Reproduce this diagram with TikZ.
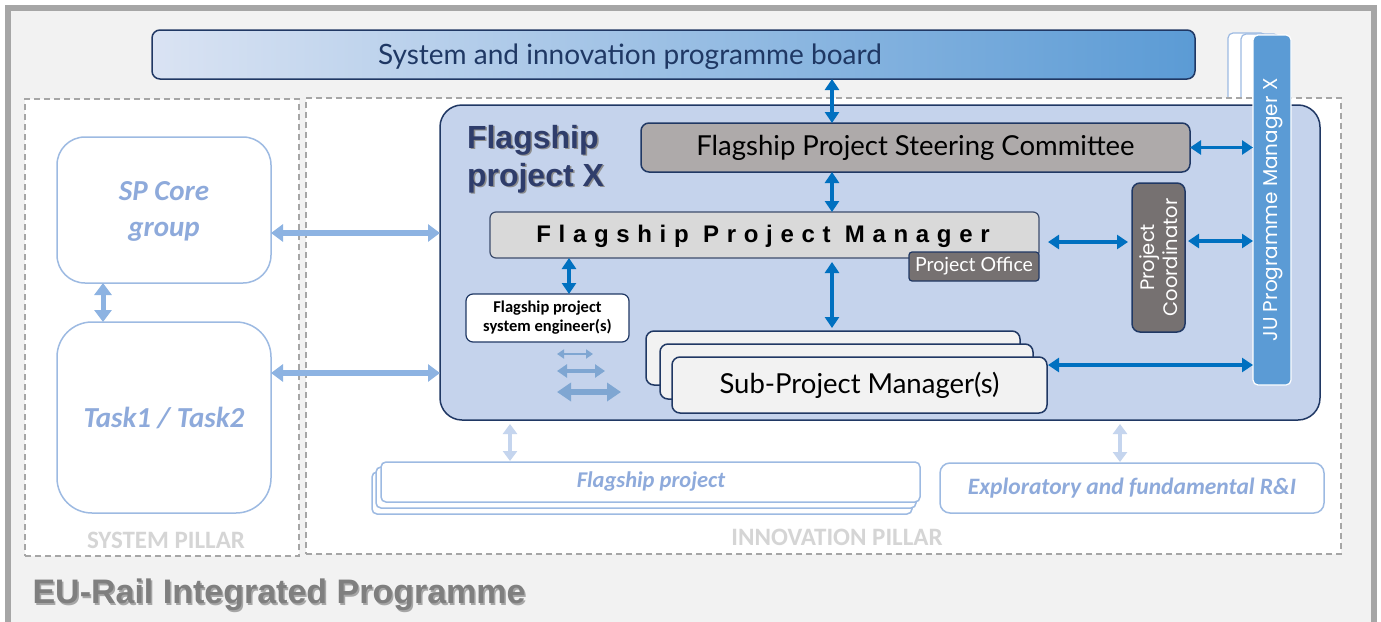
\documentclass[tikz,border=0pt]{standalone}
\usepackage{fontspec}
\setmainfont{Carlito}
\newfontfamily\latof{Lato}
\newfontfamily\popf{Poppins}
\newfontfamily\arialf{Liberation Sans}
\newfontfamily\spacedf[LetterSpace=32]{Liberation Sans}
\usetikzlibrary{arrows.meta,calc}
\definecolor{framegray}{HTML}{A6A6A6}
\definecolor{bggray}{HTML}{F2F2F2}
\definecolor{navy}{HTML}{203864}
\definecolor{boardtxt}{HTML}{1F3864}
\definecolor{gradL}{HTML}{DAE3F3}
\definecolor{gradR}{HTML}{5B9BD5}
\definecolor{mainfill}{HTML}{C5D3EC}
\definecolor{steerfill}{HTML}{AEAAAA}
\definecolor{fpmfill}{HTML}{D9D9D9}
\definecolor{darkgrayfill}{HTML}{767171}
\definecolor{jufill}{HTML}{5B9BD5}
\definecolor{lightline}{HTML}{9DBAE2}
\definecolor{lighttxt}{HTML}{8EAADB}
\definecolor{darrow}{HTML}{0070C0}
\definecolor{larrow}{HTML}{8DB3E2}
\definecolor{farrow}{HTML}{C5D5EE}
\definecolor{sarrow}{HTML}{7FA6D2}
\definecolor{pillartxt}{HTML}{D5D5D5}
\definecolor{eutxt}{HTML}{7F7F7F}
\definecolor{titletxt}{HTML}{2F3D6B}
\tikzset{
  boxbase/.style={inner sep=0pt, outer sep=0pt, align=center},
  navybox/.style={boxbase, draw=navy, line width=1.5pt},
  lightbox/.style={boxbase, draw=lightline, line width=1.5pt, fill=white},
  pillarbox/.style={boxbase, draw=framegray, dashed, dash pattern=on 6pt off 4pt, line width=1.2pt, fill=white},
  darr/.style={draw=darrow, line width=3.5pt, {Triangle[width=14pt,length=11pt]}-{Triangle[width=14pt,length=11pt]}},
  larr/.style={draw=larrow, line width=5.5pt, {Triangle[width=17pt,length=12pt]}-{Triangle[width=17pt,length=12pt]}},
  farr/.style={draw=farrow, line width=4.5pt, {Triangle[width=14pt,length=10pt]}-{Triangle[width=14pt,length=10pt]}},
  lighttext/.style={text=lighttxt, font=\bfseries\itshape},
}
\begin{document}
\begin{tikzpicture}[x=1pt,y=-1pt]
\clip (0,0) rectangle (1381,621);
\useasboundingbox (0,0) rectangle (1381,621);
\fill[white] (0,0) rectangle (1381,621);
% outer frame
\node[boxbase, fill=framegray, minimum width=1372, minimum height=640] (frame) at (691,325) {};
\node[boxbase, fill=bggray, minimum width=1360, minimum height=640] (frameinner) at (691,331) {};
% board
\node[boxbase, draw=navy, line width=1.5pt, rounded corners=8pt, left color=gradL, right color=gradR,
  minimum width=1043, minimum height=49] (board) at (673.5,54.5) {};
\node[text=boardtxt, font=\latof\fontsize{28}{30}\selectfont] (boardtext) at (630,57) {System and innovation programme board};
% JU stack copies
\node[lightbox, line width=1.2pt, rounded corners=5pt, minimum width=38, minimum height=350] (juc2) at (1247,208) {};
\node[lightbox, line width=1.2pt, rounded corners=5pt, minimum width=38, minimum height=350] (juc1) at (1260,209) {};
% pillars
\node[pillarbox, minimum width=274, minimum height=457] (syspillar) at (162,327.5) {};
\node[pillarbox, minimum width=1035, minimum height=456] (innopillar) at (823.5,326) {};
\node[text=pillartxt, font=\bfseries\fontsize{25}{27}\selectfont] (syslabel) at (166,540) {SYSTEM PILLAR};
\node[text=pillartxt, font=\bfseries\fontsize{25}{27}\selectfont] (innolabel) at (837,537) {INNOVATION PILLAR};
% main flagship box
\node[navybox, fill=mainfill, rounded corners=22pt, minimum width=880, minimum height=315] (mainbox) at (880,262.5) {};
\node[text=black!45, align=left, font=\arialf\bfseries\fontsize{32}{38}\selectfont, anchor=north west] (titleshadow) at (465,123) {Flagship\\project X};
\node[text=titletxt, align=left, font=\arialf\bfseries\fontsize{32}{38}\selectfont, anchor=north west] (title) at (463.5,121.5) {Flagship\\project X};
% JU box
\node[boxbase, draw=white, line width=1.2pt, fill=jufill, rounded corners=5pt, minimum width=38, minimum height=350] (ju) at (1272,210) {};
\node[rotate=90, text=white, font=\popf\fontsize{20}{22}\selectfont] (jutext) at (1273,210) {JU Programme Manager X};
% steering
\node[navybox, fill=steerfill, rounded corners=8pt, minimum width=549, minimum height=49, font=\latof\fontsize{27.5}{30}\selectfont] (steer) at (915.5,147.5) {Flagship Project Steering Committee};
% FPM
\node[boxbase, draw=navy!70!gray, line width=1.2pt, fill=fpmfill, rounded corners=6pt, minimum width=549, minimum height=46] (fpm) at (764.5,235) {};
\node[font=\spacedf\bfseries\fontsize{24}{26}\selectfont] (fpmtext) at (763,236) {Flagship Project Manager};
\node[navybox, line width=1.2pt, fill=darkgrayfill, rounded corners=3pt, minimum width=130, minimum height=29, text=white, font=\latof\fontsize{19.5}{21}\selectfont] (office) at (974,266.5) {Project Office};
% coordinator
\node[navybox, fill=darkgrayfill, rounded corners=8pt, minimum width=53, minimum height=149] (coord) at (1158.5,257.5) {};
\node[rotate=90, text=white, align=center, font=\popf\fontsize{19.5}{23}\selectfont] (coordtext) at (1159,257.5) {Project\\Coordinator};
% engineer
\node[navybox, line width=1.2pt, fill=white, rounded corners=7pt, minimum width=163, minimum height=48, font=\bfseries\fontsize{16.5}{19}\selectfont] (eng) at (547.5,318) {Flagship project\\system engineer(s)};
% sub-project managers
\node[navybox, fill=bggray, rounded corners=8pt, minimum width=374, minimum height=54] (sp3) at (833,358) {};
\node[navybox, fill=bggray, rounded corners=8pt, minimum width=373, minimum height=55] (sp2) at (846.5,371.5) {};
\node[navybox, fill=bggray, rounded corners=8pt, minimum width=375, minimum height=56, font=\latof\fontsize{27.5}{30}\selectfont] (sp1) at (859.5,385) {Sub-Project Manager(s)};
% system pillar boxes
\node[lightbox, rounded corners=28pt, minimum width=214, minimum height=146] (spcore) at (164,210) {};
\node[lighttext, align=center, font=\bfseries\itshape\fontsize{29}{36}\selectfont] (spcoretext) at (164,211) {SP Core\\group};
\node[lightbox, rounded corners=35pt, minimum width=214, minimum height=191, lighttext, font=\bfseries\itshape\fontsize{29}{32}\selectfont] (task) at (164,417.5) {Task1 / Task2};
% flagship project stack
\node[lightbox, rounded corners=5pt, minimum width=540, minimum height=42] (fp3) at (642,493) {};
\node[lightbox, rounded corners=5pt, minimum width=540, minimum height=41] (fp2) at (646,487.5) {};
\node[lightbox, rounded corners=5pt, minimum width=539, minimum height=40] (fp1) at (650.5,482) {};
\node[lighttext, font=\bfseries\itshape\fontsize{22.5}{24}\selectfont] (fp1text) at (651,482) {Flagship project};
% exploratory
\node[lightbox, rounded corners=10pt, minimum width=384, minimum height=50, lighttext, font=\bfseries\itshape\fontsize{23.5}{25}\selectfont] (expl) at (1132,488) {Exploratory and fundamental R\&I};
% EU-Rail label
\node[anchor=west, text=black!35, font=\arialf\bfseries\fontsize{34}{36}\selectfont] (eushadow) at (30.5,596.5) {EU-Rail Integrated Programme};
\node[anchor=west, text=eutxt, font=\arialf\bfseries\fontsize{34}{36}\selectfont] (eulabel) at (29,595) {EU-Rail Integrated Programme};
% helper coordinates
\coordinate (xa) at (832,0);
\coordinate (xb) at (569,0);
\coordinate (xc) at (103,0);
\coordinate (xd) at (510,0);
\coordinate (xe) at (1120,0);
\coordinate (yfc) at (0,242);
\coordinate (ycj) at (0,241);
\coordinate (ysj) at (0,365);
\coordinate (ysc) at (0,233);
\coordinate (yta) at (0,373);
% dark arrows
\draw[darr] (board.south -| xa) -- (steer.north -| xa);
\draw[darr] (steer.south -| xa) -- (fpm.north -| xa);
\draw[darr] ([shift={(0,4)}]fpm.south -| xa) -- ([shift={(0,-3)}]sp3.north -| xa);
\draw[darr] (fpm.south -| xb) -- (eng.north -| xb);
\draw[darr] (steer.east) -- (steer.east -| ju.west);
\draw[darr] ([shift={(9,0)}]fpm.east |- yfc) -- ([shift={(-4,0)}]coord.west |- yfc);
\draw[darr] ([shift={(3,0)}]coord.east |- ycj) -- (ju.west |- ycj);
\draw[darr] ([shift={(1,0)}]sp1.east |- ysj) -- (ju.west |- ysj);
% light arrows
\draw[larr] (spcore.east |- ysc) -- (mainbox.west |- ysc);
\draw[larr] (task.east |- yta) -- (mainbox.west |- yta);
\draw[larr, line width=5pt] (spcore.south -| xc) -- (task.north -| xc);
% faint arrows
\draw[farr] ([shift={(0,4)}]mainbox.south -| xd) -- ([shift={(0,-1)}]fp1.north -| xd);
\draw[farr] ([shift={(0,4)}]mainbox.south -| xe) -- ([shift={(0,-1)}]expl.north -| xe);
% small decorative arrows
\coordinate (s1a) at (557,354); \coordinate (s1b) at (593,354);
\coordinate (s2a) at (557,371); \coordinate (s2b) at (605,371);
\coordinate (s3a) at (557,392); \coordinate (s3b) at (621,392);
\draw[draw=sarrow, line width=2.5pt, {Triangle[width=9pt,length=7pt]}-{Triangle[width=9pt,length=7pt]}] (s1a) -- (s1b);
\draw[draw=sarrow, line width=4pt, {Triangle[width=13pt,length=10pt]}-{Triangle[width=13pt,length=10pt]}] (s2a) -- (s2b);
\draw[draw=sarrow, line width=6pt, {Triangle[width=18pt,length=14pt]}-{Triangle[width=18pt,length=14pt]}] (s3a) -- (s3b);
\end{tikzpicture}
\end{document}
